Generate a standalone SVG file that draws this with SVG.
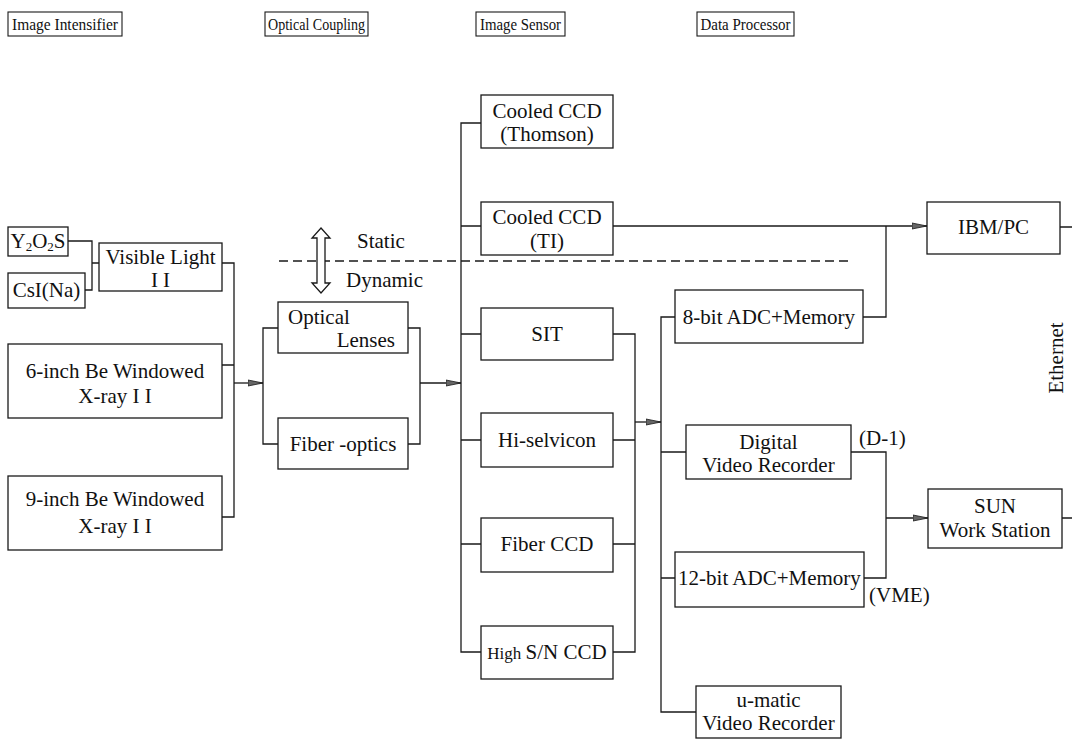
<svg xmlns="http://www.w3.org/2000/svg" width="1072" height="740" viewBox="0 0 1072 740">
<style>
  .box{fill:#fff;stroke:#1a1a1a;stroke-width:1.3}
  .hdr{fill:#fff;stroke:#1a1a1a;stroke-width:1.1}
  .ln{fill:none;stroke:#1a1a1a;stroke-width:1.3}
  .dash{fill:none;stroke:#1a1a1a;stroke-width:1.3;stroke-dasharray:9 5}
  .arr{fill:none;stroke:#1a1a1a;stroke-width:1.3;marker-end:url(#ah)}
  text{font-family:"Liberation Serif","Times New Roman","DejaVu Serif",serif;fill:#111;font-size:21px}
  .h{font-size:17px}
  .c{text-anchor:middle}
</style>
<defs>
  <marker id="ah" markerUnits="userSpaceOnUse" markerWidth="16" markerHeight="8" refX="15" refY="4" orient="auto">
    <path d="M0,1 L15,4 L0,7 z" fill="#666" stroke="#1a1a1a" stroke-width="0.8"/>
  </marker>
</defs>
<rect width="1072" height="740" fill="#fff"/>

<g id="headers">
  <g id="h-intensifier"><rect class="hdr" x="8" y="12" width="114" height="24"/><text class="h c" x="65" y="30" textLength="106" lengthAdjust="spacingAndGlyphs">Image Intensifier</text></g>
  <g id="h-coupling"><rect class="hdr" x="265" y="12" width="103" height="24"/><text class="h c" x="316.5" y="30" textLength="97" lengthAdjust="spacingAndGlyphs">Optical Coupling</text></g>
  <g id="h-sensor"><rect class="hdr" x="476" y="12" width="89" height="24"/><text class="h c" x="520.5" y="30" textLength="81" lengthAdjust="spacingAndGlyphs">Image Sensor</text></g>
  <g id="h-processor"><rect class="hdr" x="697" y="12" width="97" height="24"/><text class="h c" x="745.5" y="30" textLength="90" lengthAdjust="spacingAndGlyphs">Data Processor</text></g>
</g>

<g id="connectors">
  <path class="ln" d="M68,241 H92 V290 H85 M92,263 H99"/>
  <path class="ln" d="M222,263 H234 V517 H222 M222,365 H234"/>
  <path class="arr" d="M234,383 H263"/>
  <path class="ln" d="M278,328 H263 V444 H278"/>
  <path class="ln" d="M408,328 H420 V444 H408"/>
  <path class="arr" d="M420,383 H461"/>
  <path class="ln" d="M481,123 H461 V652 H481 M461,226 H481 M461,334 H481 M461,440 H481 M461,544 H481"/>
  <path class="ln" d="M613,334 H635 V652 H613 M613,440 H635 M613,544 H635"/>
  <path class="arr" d="M635,422 H661"/>
  <path class="arr" d="M613,226 H927"/>
  <path class="ln" d="M886,226 V317 H863"/>
  <path class="ln" d="M675,317 H661 V712 H696 M661,452 H686 M661,578 H675"/>
  <path class="ln" d="M851,452 H886 V578 H864"/>
  <path class="arr" d="M886,518 H928"/>
  <path class="ln" d="M1060,227 H1072 M1062,518 H1072"/>
  <path class="dash" d="M279,261 H849"/>
  <polygon class="box" points="321,228 330,238 325,238 325,283 330,283 321,293 312,283 317,283 317,238 312,238"/>
</g>

<g id="labels">
  <text x="357" y="248">Static</text>
  <text x="346" y="287">Dynamic</text>
  <text x="859" y="445">(D-1)</text>
  <text x="869" y="602">(VME)</text>
  <text class="c" transform="translate(1063,358) rotate(-90)">Ethernet</text>
</g>

<g id="n-y2o2s"><rect class="box" x="8" y="227" width="60" height="29"/><text class="c" x="38" y="248">Y<tspan font-size="13" dy="3">2</tspan><tspan dy="-3">O</tspan><tspan font-size="13" dy="3">2</tspan><tspan dy="-3">S</tspan></text></g>
<g id="n-csi"><rect class="box" x="8" y="273" width="77" height="35"/><text class="c" x="46.5" y="297">CsI(Na)</text></g>
<g id="n-visible"><rect class="box" x="99" y="243" width="123" height="48"/><text class="c" x="160.5" y="264">Visible Light</text><text class="c" x="160.5" y="287">I I</text></g>
<g id="n-6inch"><rect class="box" x="8" y="344" width="214" height="74"/><text class="c" x="115" y="378">6-inch Be Windowed</text><text class="c" x="115" y="403">X-ray I I</text></g>
<g id="n-9inch"><rect class="box" x="8" y="476" width="214" height="74"/><text class="c" x="115" y="506">9-inch Be Windowed</text><text class="c" x="115" y="533">X-ray I I</text></g>

<g id="n-lenses"><rect class="box" x="278" y="302" width="130" height="51"/><text x="288" y="324">Optical</text><text x="395" y="347" text-anchor="end">Lenses</text></g>
<g id="n-fiberoptics"><rect class="box" x="278" y="418" width="130" height="51"/><text class="c" x="343" y="451">Fiber -optics</text></g>

<g id="n-thomson"><rect class="box" x="481" y="95" width="132" height="53"/><text class="c" x="547" y="118">Cooled CCD</text><text class="c" x="547" y="141">(Thomson)</text></g>
<g id="n-ti"><rect class="box" x="481" y="202" width="132" height="53"/><text class="c" x="547" y="224">Cooled CCD</text><text class="c" x="547" y="248">(TI)</text></g>
<g id="n-sit"><rect class="box" x="481" y="308" width="132" height="52"/><text class="c" x="547" y="341">SIT</text></g>
<g id="n-hiselvicon"><rect class="box" x="481" y="413" width="132" height="54"/><text class="c" x="547" y="447">Hi-selvicon</text></g>
<g id="n-fiberccd"><rect class="box" x="481" y="518" width="132" height="54"/><text class="c" x="547" y="551">Fiber CCD</text></g>
<g id="n-highsn"><rect class="box" x="481" y="626" width="132" height="53"/><text class="c" x="547" y="659"><tspan font-size="17">High </tspan>S/N CCD</text></g>

<g id="n-8bit"><rect class="box" x="675" y="290" width="188" height="53"/><text class="c" x="769" y="324">8-bit ADC+Memory</text></g>
<g id="n-dvr"><rect class="box" x="686" y="425" width="165" height="54"/><text class="c" x="768.5" y="449">Digital</text><text class="c" x="768.5" y="472">Video Recorder</text></g>
<g id="n-12bit"><rect class="box" x="675" y="552" width="189" height="55"/><text class="c" x="769.5" y="585">12-bit ADC+Memory</text></g>
<g id="n-umatic"><rect class="box" x="696" y="686" width="145" height="52"/><text class="c" x="768.5" y="707">u-matic</text><text class="c" x="768.5" y="730">Video Recorder</text></g>
<g id="n-ibmpc"><rect class="box" x="927" y="202" width="133" height="52"/><text class="c" x="993.5" y="234">IBM/PC</text></g>
<g id="n-sun"><rect class="box" x="928" y="489" width="134" height="59"/><text class="c" x="995" y="513">SUN</text><text class="c" x="995" y="537">Work Station</text></g>
</svg>
